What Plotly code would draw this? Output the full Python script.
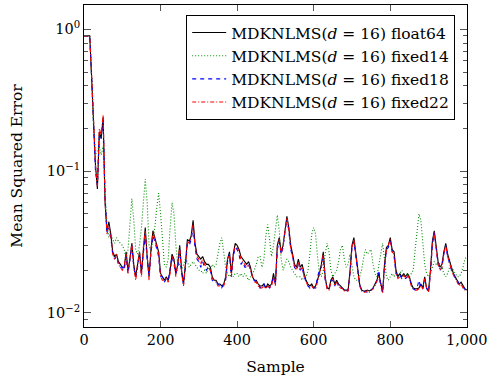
import plotly.graph_objects as go

samples = list(range(0, 1001, 5))

mse_float64 = [
    0.90, 0.90, 0.90, 0.90, 0.45, 0.20, 0.11, 0.075, 0.19, 0.17,
    0.24, 0.06, 0.038, 0.044, 0.036, 0.027, 0.025, 0.026, 0.023, 0.022,
    0.021, 0.021, 0.027, 0.020, 0.024, 0.031, 0.022, 0.018, 0.022, 0.027,
    0.019, 0.030, 0.040, 0.025, 0.018, 0.028, 0.038, 0.034, 0.030, 0.027,
    0.019, 0.018, 0.017, 0.018, 0.017, 0.020, 0.026, 0.024, 0.019, 0.022,
    0.030, 0.020, 0.016, 0.022, 0.033, 0.032, 0.035, 0.045, 0.031, 0.026,
    0.025, 0.024, 0.025, 0.023, 0.022, 0.022, 0.021, 0.018, 0.017, 0.017,
    0.016, 0.016, 0.0155, 0.016, 0.018, 0.024, 0.027, 0.019, 0.026, 0.031,
    0.030, 0.028, 0.025, 0.024, 0.023, 0.022, 0.023, 0.021, 0.018, 0.017,
    0.017, 0.016, 0.0155, 0.0155, 0.016, 0.015, 0.016, 0.0155, 0.016, 0.019,
    0.016, 0.030, 0.034, 0.027, 0.030, 0.040, 0.048, 0.040, 0.030, 0.026,
    0.022, 0.021, 0.024, 0.021, 0.022, 0.019, 0.017, 0.016, 0.0155, 0.016,
    0.015, 0.0155, 0.017, 0.019, 0.022, 0.027, 0.018, 0.015, 0.0148, 0.017,
    0.018, 0.016, 0.017, 0.016, 0.0155, 0.015, 0.0145, 0.0145, 0.0145, 0.020,
    0.030, 0.034, 0.027, 0.021, 0.016, 0.0145, 0.0143, 0.0143, 0.0145, 0.0143,
    0.0145, 0.015, 0.016, 0.017, 0.019, 0.016, 0.014, 0.022, 0.029, 0.030,
    0.034, 0.028, 0.027, 0.020, 0.018, 0.019, 0.018, 0.019, 0.018, 0.019,
    0.018, 0.016, 0.015, 0.0148, 0.0148, 0.015, 0.016, 0.015, 0.018, 0.015,
    0.0143, 0.020, 0.032, 0.038, 0.028, 0.023, 0.021, 0.022, 0.027, 0.031,
    0.026, 0.023, 0.021, 0.019, 0.018, 0.017, 0.016, 0.0165, 0.0155, 0.0148,
    0.0145,
]

mse_fixed14 = [
    0.90, 0.90, 0.90, 0.90, 0.45, 0.20, 0.13, 0.14, 0.15, 0.13,
    0.15, 0.07, 0.042, 0.034, 0.036, 0.033, 0.031, 0.034, 0.032, 0.031,
    0.030, 0.028, 0.024, 0.028, 0.040, 0.064, 0.045, 0.028, 0.026, 0.030,
    0.040, 0.065, 0.088, 0.060, 0.030, 0.027, 0.032, 0.040, 0.055, 0.070,
    0.050, 0.030, 0.022, 0.021, 0.024, 0.040, 0.060, 0.050, 0.030, 0.022,
    0.022, 0.020, 0.022, 0.024, 0.023, 0.021, 0.022, 0.023, 0.022, 0.021,
    0.020, 0.020, 0.019, 0.020, 0.019, 0.021, 0.020, 0.022, 0.021, 0.022,
    0.026, 0.031, 0.034, 0.027, 0.021, 0.019, 0.018, 0.019, 0.018, 0.019,
    0.019, 0.018, 0.019, 0.018, 0.019, 0.018, 0.017, 0.018, 0.019, 0.020,
    0.022, 0.025, 0.025, 0.021, 0.024, 0.035, 0.042, 0.033, 0.025, 0.030,
    0.040, 0.049, 0.038, 0.024, 0.020, 0.022, 0.024, 0.023, 0.021, 0.020,
    0.019, 0.018, 0.018, 0.018, 0.017, 0.018, 0.018, 0.020, 0.026, 0.036,
    0.040, 0.036, 0.025, 0.019, 0.018, 0.020, 0.026, 0.031, 0.027, 0.020,
    0.018, 0.019, 0.020, 0.023, 0.028, 0.030, 0.024, 0.021, 0.022, 0.026,
    0.021, 0.018, 0.017, 0.017, 0.018, 0.020, 0.024, 0.028, 0.026, 0.027,
    0.028, 0.022, 0.019, 0.018, 0.022, 0.027, 0.031, 0.024, 0.018, 0.017,
    0.018, 0.019, 0.018, 0.019, 0.018, 0.019, 0.020, 0.019, 0.018, 0.019,
    0.018, 0.019, 0.020, 0.028, 0.040, 0.050, 0.045, 0.030, 0.022, 0.019,
    0.018, 0.019, 0.021, 0.023, 0.022, 0.023, 0.022, 0.021, 0.019, 0.018,
    0.019, 0.021, 0.021, 0.020, 0.019, 0.018, 0.018, 0.019, 0.021, 0.024,
    0.025,
]

mse_fixed18 = [
    0.90, 0.90, 0.90, 0.90, 0.46, 0.21, 0.10, 0.08, 0.18, 0.17,
    0.23, 0.065, 0.037, 0.040, 0.034, 0.026, 0.024, 0.025, 0.022, 0.021,
    0.021, 0.020, 0.025, 0.019, 0.023, 0.030, 0.021, 0.018, 0.021, 0.026,
    0.019, 0.028, 0.036, 0.024, 0.018, 0.027, 0.035, 0.032, 0.028, 0.025,
    0.018, 0.018, 0.0165, 0.0175, 0.017, 0.020, 0.025, 0.022, 0.019, 0.021,
    0.028, 0.019, 0.016, 0.021, 0.031, 0.030, 0.033, 0.040, 0.029, 0.024,
    0.023, 0.021, 0.023, 0.021, 0.020, 0.021, 0.020, 0.017, 0.0165, 0.0165,
    0.016, 0.0155, 0.015, 0.016, 0.017, 0.023, 0.026, 0.018, 0.025, 0.029,
    0.028, 0.026, 0.022, 0.023, 0.021, 0.021, 0.022, 0.020, 0.018, 0.017,
    0.0165, 0.016, 0.015, 0.0155, 0.016, 0.015, 0.0155, 0.015, 0.016, 0.018,
    0.016, 0.028, 0.032, 0.026, 0.029, 0.038, 0.046, 0.038, 0.028, 0.025,
    0.021, 0.020, 0.022, 0.020, 0.021, 0.018, 0.0165, 0.0155, 0.015, 0.0155,
    0.015, 0.015, 0.018, 0.020, 0.021, 0.025, 0.017, 0.015, 0.0145, 0.017,
    0.017, 0.0155, 0.017, 0.0155, 0.015, 0.015, 0.0145, 0.014, 0.0145, 0.019,
    0.029, 0.032, 0.025, 0.020, 0.016, 0.0145, 0.014, 0.0143, 0.014, 0.0143,
    0.0145, 0.015, 0.0155, 0.017, 0.020, 0.016, 0.014, 0.021, 0.028, 0.029,
    0.032, 0.027, 0.025, 0.019, 0.018, 0.0185, 0.0175, 0.018, 0.0175, 0.018,
    0.0175, 0.016, 0.0148, 0.0145, 0.015, 0.017, 0.015, 0.0148, 0.017, 0.015,
    0.014, 0.019, 0.030, 0.037, 0.027, 0.022, 0.020, 0.021, 0.026, 0.030,
    0.025, 0.022, 0.020, 0.019, 0.0175, 0.017, 0.016, 0.016, 0.0155, 0.0145,
    0.0143,
]

mse_fixed22 = [
    0.90, 0.90, 0.90, 0.90, 0.47, 0.22, 0.11, 0.078, 0.20, 0.18,
    0.25, 0.062, 0.036, 0.041, 0.035, 0.026, 0.024, 0.026, 0.022, 0.021,
    0.020, 0.021, 0.026, 0.019, 0.024, 0.031, 0.021, 0.017, 0.022, 0.027,
    0.018, 0.029, 0.038, 0.025, 0.017, 0.028, 0.037, 0.033, 0.029, 0.026,
    0.018, 0.017, 0.017, 0.0175, 0.0165, 0.019, 0.025, 0.023, 0.018, 0.022,
    0.029, 0.019, 0.0155, 0.022, 0.032, 0.031, 0.034, 0.042, 0.030, 0.025,
    0.024, 0.022, 0.024, 0.022, 0.021, 0.021, 0.020, 0.0175, 0.017, 0.0165,
    0.0155, 0.0155, 0.015, 0.0155, 0.0175, 0.024, 0.026, 0.018, 0.026, 0.030,
    0.029, 0.027, 0.024, 0.023, 0.022, 0.021, 0.022, 0.020, 0.0175, 0.0165,
    0.0165, 0.0155, 0.015, 0.015, 0.0155, 0.0148, 0.0155, 0.015, 0.0155, 0.018,
    0.0155, 0.029, 0.033, 0.026, 0.030, 0.039, 0.047, 0.039, 0.029, 0.025,
    0.021, 0.020, 0.023, 0.020, 0.021, 0.018, 0.0165, 0.0155, 0.015, 0.0155,
    0.0148, 0.015, 0.0165, 0.019, 0.021, 0.026, 0.0175, 0.0148, 0.0145, 0.0165,
    0.0175, 0.0155, 0.0165, 0.0155, 0.015, 0.0148, 0.0143, 0.0143, 0.0143, 0.019,
    0.029, 0.033, 0.026, 0.020, 0.0155, 0.0143, 0.014, 0.014, 0.0143, 0.014,
    0.0143, 0.0148, 0.0155, 0.0165, 0.018, 0.0155, 0.0138, 0.021, 0.028, 0.030,
    0.033, 0.027, 0.026, 0.019, 0.0175, 0.018, 0.0175, 0.0185, 0.0175, 0.0185,
    0.0175, 0.0155, 0.0148, 0.0145, 0.0145, 0.0148, 0.0155, 0.0148, 0.0175, 0.0148,
    0.014, 0.019, 0.031, 0.037, 0.027, 0.022, 0.020, 0.021, 0.026, 0.030,
    0.025, 0.022, 0.020, 0.0185, 0.0175, 0.0165, 0.0155, 0.016, 0.015, 0.0145,
    0.0143,
]

series_names = [
    "MDKNLMS(<i>d</i> = 16) float64",
    "MDKNLMS(<i>d</i> = 16) fixed14",
    "MDKNLMS(<i>d</i> = 16) fixed18",
    "MDKNLMS(<i>d</i> = 16) fixed22",
]

x_tick_vals = [0, 200, 400, 600, 800, 1000]
x_tick_text = ["0", "200", "400", "600", "800", "1,000"]
y_tick_vals = [0.01, 0.1, 1]
y_tick_text = ["10<sup>−2</sup>", "10<sup>−1</sup>", "10<sup>0</sup>"]
y_minor_vals = [0.009] + [k / 100 for k in range(2, 10)] + [k / 10 for k in range(2, 10)]

FONT = "DejaVu Serif"

fig = go.Figure()
styles = [
    dict(color="black", width=1.1, dash="solid"),
    dict(color="rgb(0,140,0)", width=1.1, dash="1px,2px"),
    dict(color="blue", width=1.1, dash="4px,4px"),
    dict(color="red", width=1.1, dash="4px,2px,1px,2px"),
]
for name, ys, st in zip(series_names,
                        [mse_float64, mse_fixed14, mse_fixed18, mse_fixed22],
                        styles):
    fig.add_trace(go.Scatter(x=samples, y=ys, mode="lines", name=name,
                             line=st))

fig.update_layout(
    width=492, height=387,
    margin=dict(l=84, r=19, t=4, b=60),
    paper_bgcolor="white", plot_bgcolor="white",
    font=dict(family=FONT, color="black", size=14),
    showlegend=True,
    legend=dict(
        x=(461 - 84) / 389, y=(327 - 14) / 323,
        xanchor="right", yanchor="top",
        bgcolor="white", bordercolor="black", borderwidth=1,
        font=dict(family=FONT, size=15.5, color="black"),
        itemwidth=34, tracegroupgap=0,
    ),
    xaxis=dict(
        range=[0, 1000.5], showgrid=False, zeroline=False,
        showline=True, linecolor="black", linewidth=1, mirror="allticks",
        ticks="inside", ticklen=6, tickcolor="#555", tickwidth=1,
        tickmode="array", tickvals=x_tick_vals, ticktext=x_tick_text,
        tickfont=dict(family=FONT, size=14.5), ticklabeloverflow="allow",
        title=dict(text="Sample", font=dict(family=FONT, size=15.5), standoff=13),
    ),
    yaxis=dict(
        type="log", range=[-2.099, 0.172], showgrid=False, zeroline=False,
        showline=True, linecolor="black", linewidth=1, mirror="allticks",
        ticks="inside", ticklen=7, tickcolor="#555", tickwidth=1,
        tickmode="array", tickvals=y_tick_vals, ticktext=y_tick_text,
        tickfont=dict(family=FONT, size=14.5),
        minor=dict(tickmode="array", tickvals=y_minor_vals, ticks="inside",
                   ticklen=4, tickcolor="#555", tickwidth=1, showgrid=False),
        title=dict(text="Mean Squared Error", font=dict(family=FONT, size=15.5),
                   standoff=20),
    ),
)

fig.write_html("out.html")
